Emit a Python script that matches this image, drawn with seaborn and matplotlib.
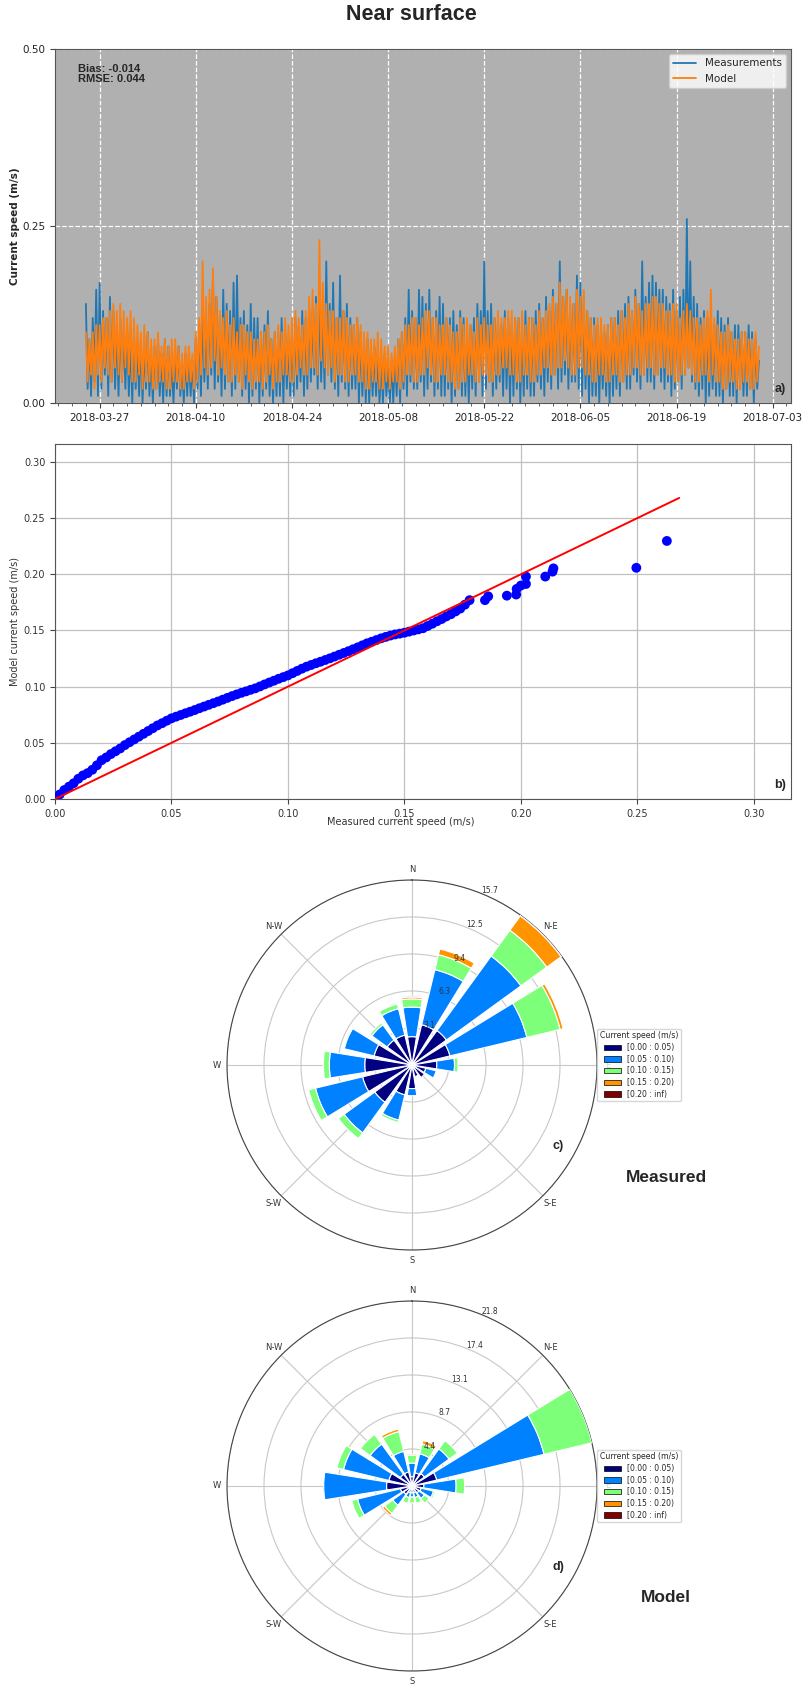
import numpy as np
import pandas as pd
import matplotlib
matplotlib.use("Agg")
import matplotlib.pyplot as plt
import matplotlib.dates as mdates
from matplotlib.patches import Patch
import seaborn as sns

# ---------------- data ----------------
# time series (cm/s), 6-hourly from 2018-03-25 00:00
meas_cms = [
    14, 2, 9, 1, 12, 3, 16, 1, 17, 2, 13, 4, 12, 1, 15, 3, 13, 2, 11, 1, 12, 3, 10, 2, 11, 1, 9, 0,
    10, 2, 8, 1, 9, 0, 8, 2, 10, 1, 7, 0, 8, 2, 9, 1, 7, 0, 9, 1, 8, 1, 6, 0, 7, 2, 8, 1,
    6, 0, 7, 1, 7, 1, 6, 0, 9, 2, 11, 1, 13, 3, 12, 2, 14, 4, 18, 2, 15, 3, 12, 1, 16, 2, 14, 3,
    13, 1, 17, 2, 18, 3, 12, 1, 13, 2, 11, 0, 14, 1, 12, 2, 12, 0, 10, 1, 11, 2, 13, 1, 9, 0, 10, 1,
    10, 1, 12, 0, 11, 2, 9, 1, 10, 1, 12, 2, 11, 3, 13, 1, 12, 2, 14, 3, 13, 4, 15, 2, 16, 3, 12, 2,
    20, 4, 14, 3, 17, 2, 12, 1, 18, 3, 13, 2, 14, 1, 12, 2, 11, 2, 12, 0, 10, 1, 9, 0, 9, 0, 8, 1,
    8, 1, 7, 0, 6, 0, 7, 1, 5, 0, 6, 0, 7, 1, 9, 0, 10, 2, 12, 1, 16, 3, 13, 2, 12, 2, 16, 3,
    15, 1, 14, 2, 16, 3, 12, 1, 13, 2, 15, 1, 14, 1, 12, 2, 12, 0, 13, 1, 11, 2, 13, 1, 12, 1, 10, 0,
    11, 2, 12, 1, 14, 3, 13, 1, 20, 2, 13, 3, 14, 1, 12, 2, 12, 3, 11, 1, 13, 2, 12, 0, 11, 1, 12, 2,
    12, 0, 11, 1, 13, 2, 12, 1, 12, 1, 13, 3, 14, 2, 12, 1, 15, 3, 13, 2, 16, 4, 14, 2, 20, 3, 15, 4,
    16, 2, 14, 3, 14, 3, 18, 2, 17, 1, 15, 2, 13, 0, 12, 1, 12, 1, 11, 0, 11, 2, 10, 1, 11, 0, 12, 1,
    12, 2, 13, 1, 13, 3, 14, 2, 15, 2, 13, 4, 16, 3, 14, 2, 20, 4, 15, 3, 17, 3, 18, 2, 17, 4, 16, 3,
    16, 2, 15, 3, 14, 1, 16, 2, 13, 3, 15, 2, 16, 4, 26, 5, 20, 3, 15, 2, 14, 1, 12, 2, 13, 0, 12, 1,
    12, 2, 11, 1, 13, 1, 12, 0, 11, 2, 12, 1, 10, 1, 11, 0, 11, 2, 10, 1, 10, 1, 11, 2, 10, 0, 9, 2,
    6]
model_cms = [
    10, 3, 9, 4, 10, 2, 11, 4, 11, 3, 12, 5, 12, 4, 13, 3, 14, 5, 13, 4, 14, 3, 13, 5, 12, 4, 13, 3,
    12, 3, 11, 4, 10, 2, 11, 3, 10, 3, 9, 2, 9, 2, 10, 3, 8, 3, 9, 2, 8, 2, 9, 3, 9, 3, 8, 2,
    7, 2, 8, 3, 8, 3, 7, 2, 10, 3, 12, 4, 20, 5, 15, 4, 16, 5, 19, 6, 15, 4, 13, 5, 12, 4, 13, 3,
    11, 3, 12, 4, 10, 3, 11, 2, 11, 4, 10, 3, 10, 2, 9, 3, 9, 3, 10, 2, 10, 3, 11, 4, 9, 2, 10, 3,
    11, 3, 10, 4, 12, 4, 11, 3, 12, 3, 13, 4, 12, 5, 11, 4, 13, 4, 15, 5, 16, 5, 14, 4, 23, 6, 17, 5,
    14, 4, 13, 5, 13, 3, 12, 4, 12, 4, 13, 3, 12, 3, 11, 4, 11, 4, 12, 3, 11, 3, 10, 2, 10, 2, 9, 3,
    9, 3, 10, 2, 9, 2, 8, 3, 8, 2, 7, 3, 8, 3, 9, 2, 10, 3, 11, 4, 11, 4, 12, 3, 12, 3, 11, 4,
    12, 4, 13, 5, 13, 4, 12, 3, 12, 3, 11, 4, 11, 4, 12, 3, 11, 3, 10, 2, 10, 2, 12, 3, 11, 3, 12, 4,
    11, 4, 10, 3, 12, 3, 11, 4, 12, 4, 11, 3, 11, 3, 12, 4, 13, 4, 12, 5, 12, 5, 13, 4, 13, 4, 12, 3,
    12, 3, 13, 4, 11, 4, 12, 3, 12, 3, 11, 4, 13, 4, 12, 5, 13, 5, 14, 4, 15, 4, 14, 5, 17, 5, 15, 6,
    16, 5, 15, 4, 14, 4, 16, 5, 15, 5, 16, 4, 13, 4, 12, 3, 11, 3, 12, 4, 12, 4, 11, 3, 11, 3, 12, 4,
    12, 4, 11, 3, 13, 3, 12, 4, 14, 4, 13, 5, 15, 5, 14, 4, 13, 4, 14, 5, 14, 5, 15, 4, 15, 4, 14, 5,
    14, 5, 13, 4, 13, 4, 14, 3, 14, 3, 12, 4, 13, 4, 14, 5, 13, 4, 12, 3, 12, 3, 11, 4, 12, 4, 13, 3,
    16, 4, 12, 3, 11, 3, 10, 2, 10, 2, 11, 3, 10, 3, 9, 2, 9, 2, 10, 3, 10, 3, 9, 2, 9, 2, 10, 3,
    8]
series_start = "2018-03-25 00:00"
series_step = "6h"
bias_text = "Bias: -0.014\nRMSE: 0.044"

# Q-Q plot (m/s)
qq_meas = [
    0.000, 0.002, 0.004, 0.006, 0.008, 0.010, 0.012, 0.014, 0.016, 0.018, 0.020, 0.022, 0.024, 0.026,
    0.028, 0.030, 0.032, 0.034, 0.036, 0.038, 0.040, 0.042, 0.044, 0.046, 0.048, 0.050, 0.052, 0.054,
    0.056, 0.058, 0.060, 0.062, 0.064, 0.066, 0.068, 0.070, 0.072, 0.074, 0.076, 0.078, 0.080, 0.082,
    0.084, 0.086, 0.088, 0.090, 0.092, 0.094, 0.096, 0.098, 0.100, 0.102, 0.104, 0.106, 0.108, 0.110,
    0.112, 0.114, 0.116, 0.118, 0.120, 0.122, 0.124, 0.126, 0.128, 0.130, 0.132, 0.134, 0.136, 0.138,
    0.140, 0.142, 0.144, 0.146, 0.148, 0.150, 0.152, 0.154, 0.156, 0.158, 0.160, 0.162, 0.164, 0.166,
    0.168, 0.170, 0.172, 0.174, 0.176, 0.178,
    0.1846, 0.186, 0.194, 0.198, 0.1982, 0.200, 0.2022, 0.2022, 0.2105, 0.2136, 0.214, 0.2496, 0.2627]
qq_model = [
    0.000, 0.004, 0.008, 0.011, 0.014, 0.018, 0.021, 0.023, 0.026, 0.030, 0.0345, 0.037, 0.040, 0.0425,
    0.045, 0.048, 0.0505, 0.053, 0.0555, 0.058, 0.0605, 0.063, 0.0655, 0.0675, 0.0697, 0.0718, 0.0733, 0.0748,
    0.0763, 0.0777, 0.0792, 0.0808, 0.0823, 0.0838, 0.0853, 0.0868, 0.0884, 0.0900, 0.0916, 0.0931, 0.0945, 0.0958,
    0.0972, 0.0985, 0.1002, 0.1020, 0.1037, 0.1053, 0.1070, 0.1085, 0.1100, 0.1120, 0.1140, 0.1160, 0.1178, 0.1193,
    0.1208, 0.1222, 0.1237, 0.1252, 0.1268, 0.1284, 0.1300, 0.1316, 0.1333, 0.1350, 0.1368, 0.1386, 0.1400, 0.1415,
    0.1430, 0.1443, 0.1455, 0.1465, 0.1472, 0.1480, 0.1490, 0.1500, 0.1510, 0.1520, 0.1540, 0.1560, 0.1582, 0.1602,
    0.1625, 0.1645, 0.1670, 0.1695, 0.1730, 0.1770,
    0.177, 0.1804, 0.181, 0.182, 0.187, 0.190, 0.1914, 0.198, 0.198, 0.2024, 0.2053, 0.2058, 0.2297]
one_to_one = [0.0, 0.268]

# wind roses: frequency (%) per direction (N, NNE, ... NNW) and speed bin
rose_dirs = [0, 22.5, 45, 67.5, 90, 112.5, 135, 157.5, 180, 202.5, 225, 247.5, 270, 292.5, 315, 337.5]
speed_bins = ["[0.00 : 0.05)", "[0.05 : 0.10)", "[0.10 : 0.15)", "[0.15 : 0.20)", "[0.20 : inf)"]
meas_b1 = [2.4, 3.5, 3.6, 3.3, 2.1, 1.2, 1.3, 1.0, 2.0, 2.6, 3.9, 4.3, 4.0, 3.3, 2.6, 2.6]
meas_b2 = [2.5, 4.8, 7.8, 6.7, 1.5, 0.9, 0.0, 0.0, 0.6, 2.2, 3.2, 4.1, 3.0, 2.6, 1.6, 2.3]
meas_b3 = [0.7, 1.3, 2.7, 2.9, 0.3, 0.0, 0.0, 0.0, 0.0, 0.2, 0.6, 0.6, 0.5, 0.1, 0.2, 0.4]
meas_b4 = [0.15, 0.5, 1.5, 0.25, 0, 0, 0, 0, 0, 0, 0, 0, 0, 0, 0, 0]
meas_b5 = [0.1, 0, 0.06, 0, 0, 0, 0, 0, 0, 0, 0, 0, 0, 0, 0, 0]
model_b1 = [1.1, 1.6, 1.8, 3.0, 1.4, 1.1, 1.0, 0.8, 0.8, 0.8, 1.2, 1.4, 3.0, 2.8, 1.7, 1.7]
model_b2 = [1.6, 2.3, 3.6, 13.0, 3.8, 1.5, 0.8, 0.6, 0.5, 0.6, 1.6, 5.2, 7.4, 5.5, 4.4, 2.5]
model_b3 = [0.95, 1.2, 1.2, 5.8, 1.0, 0.2, 0.7, 0.7, 0.7, 0.7, 1.2, 0.7, 0.0, 0.8, 1.4, 2.4]
model_b4 = [0.15, 0.4, 0, 0, 0, 0, 0, 0, 0, 0, 0.3, 0, 0, 0, 0, 0.3]
model_b5 = [0, 0, 0, 0, 0, 0, 0, 0, 0, 0, 0, 0, 0, 0, 0, 0]
meas_rmax = 15.66
model_rmax = 21.8

# ---------------- style ----------------
sns.set_style("ticks")
plt.rcParams["font.family"] = ["DejaVu Sans"]
ARIAL = ["Liberation Sans", "DejaVu Sans"]
W, H = 802, 1688
fig = plt.figure(figsize=(W / 100, H / 100), dpi=100)


def rect(l, t, r, b):
    return [l / W, 1 - b / H, (r - l) / W, (b - t) / H]


fig.text(411 / W, 1 - 15 / H, "Near surface", ha="center", va="center",
         fontsize=15.5, fontweight="bold", family=ARIAL)

# ---------------- a) time series ----------------
axa = fig.add_axes(rect(55, 49, 791, 403))
times = pd.date_range(series_start, periods=len(meas_cms), freq=series_step)
df = pd.DataFrame({"time": times,
                   "meas": np.array(meas_cms) / 100.0,
                   "model": np.array(model_cms) / 100.0})
sns.lineplot(data=df, x="time", y="meas", ax=axa, color="#1f77b4", lw=1.3,
             label="Measurements", estimator=None)
sns.lineplot(data=df, x="time", y="model", ax=axa, color="#ff7f0e", lw=1.3,
             label="Model", estimator=None)
axa.set_facecolor("#b0b0b0")
axa.set_ylim(0, 0.5)
axa.set_yticks([0, 0.25, 0.5])
axa.set_yticklabels(["0.00", "0.25", "0.50"])
axa.set_xlim(mdates.date2num(pd.Timestamp("2018-03-20 12:00")),
             mdates.date2num(pd.Timestamp("2018-07-05 16:00")))
major = pd.date_range("2018-03-27", "2018-07-03", freq="14D")
minor = pd.date_range("2018-03-21", "2018-07-05", freq="2D")
axa.set_xticks(mdates.date2num(major))
axa.set_xticks(mdates.date2num(minor), minor=True)
axa.xaxis.set_major_formatter(mdates.DateFormatter("%Y-%m-%d"))
axa.grid(True, which="major", color="white", ls="--", lw=0.9)
axa.tick_params(axis="both", which="major", labelsize=7.5, length=3.5, color="#444", labelcolor="#222")
axa.tick_params(axis="x", which="minor", length=2, color="#444")
for s in axa.spines.values():
    s.set_color("#555")
    s.set_linewidth(0.8)
axa.set_xlabel("")
axa.set_ylabel("Current speed (m/s)", fontsize=7.5, fontweight="bold")
axa.yaxis.set_label_coords(-0.047, 0.5)
leg = axa.legend(loc="upper right", fontsize=7.5, frameon=True, framealpha=0.8,
                 facecolor="white", edgecolor="#cccccc", handlelength=2.2)
fig.text(78 / W, 1 - 64 / H, bias_text, ha="left", va="top", fontsize=8,
         fontweight="bold", family=ARIAL, linespacing=1.05)
fig.text(780 / W, 1 - 389 / H, "a)", ha="center", va="center", fontsize=9,
         fontweight="bold", family=ARIAL)

# ---------------- b) Q-Q ----------------
axb = fig.add_axes(rect(55, 444, 791, 799))
sns.scatterplot(x=qq_meas, y=qq_model, ax=axb, color="blue", s=50, edgecolor="none", zorder=3)
sns.lineplot(x=one_to_one, y=one_to_one, ax=axb, color="red", lw=1.4, zorder=4)
axb.set_xlim(0, 0.316)
axb.set_ylim(0, 0.316)
ticks = [0, 0.05, 0.10, 0.15, 0.20, 0.25, 0.30]
axb.set_xticks(ticks)
axb.set_yticks(ticks)
axb.set_xticklabels([f"{t:.2f}" for t in ticks])
axb.set_yticklabels([f"{t:.2f}" for t in ticks])
axb.grid(True, color="#c0c0c0", lw=0.9)
axb.set_axisbelow(True)
axb.tick_params(labelsize=7, length=3.5, color="#444", labelcolor="#333")
for s in axb.spines.values():
    s.set_color("#555")
    s.set_linewidth(0.8)
axb.set_xlabel("Measured current speed (m/s)", fontsize=7, color="#333")
axb.set_ylabel("Model current speed (m/s)", fontsize=7, color="#333")
axb.yaxis.set_label_coords(-0.047, 0.5)
axb.xaxis.set_label_coords(0.47, -0.05)
fig.text(780 / W, 1 - 785 / H, "b)", ha="center", va="center", fontsize=9,
         fontweight="bold", family=ARIAL)

# ---------------- c), d) wind roses ----------------
jet = plt.get_cmap("jet")
bin_colors = [jet(v) for v in np.linspace(0, 1, 5)]


def rose(center_y, bins, rmax, letter, title):
    cx, r = 412, 185
    ax = fig.add_axes(rect(cx - r, center_y - r, cx + r, center_y + r), projection="polar")
    ax.set_theta_zero_location("N")
    ax.set_theta_direction(-1)
    theta = np.deg2rad(rose_dirs)
    bottom = np.zeros(len(rose_dirs))
    for vals, col in zip(bins, bin_colors):
        vals = np.asarray(vals, dtype=float)
        m = vals > 0
        ax.bar(theta[m], vals[m], width=np.deg2rad(18), bottom=bottom[m], color=col,
               edgecolor="white", linewidth=0.8, zorder=3)
        bottom += vals
    ax.set_ylim(0, rmax)
    rt = [rmax * k / 5 for k in range(1, 6)]
    ax.set_rgrids(rt, labels=[""] * len(rt))
    for v in rt:
        ax.text(np.deg2rad(24), v + rmax * 6 / 185, f"{v:.1f}", ha="center", va="center",
                fontsize=5.5, color="#333", zorder=10)
    ax.set_xticks(np.deg2rad([0, 45, 90, 135, 180, 225, 270, 315]))
    ax.set_xticklabels(["N", "N-E", "E", "S-E", "S", "S-W", "W", "N-W"], fontsize=6, color="#333")
    ax.tick_params(axis="x", pad=-3)
    ax.grid(True, color="#c8c8c8", lw=0.8)
    ax.spines["polar"].set_color("#444")
    ax.spines["polar"].set_linewidth(0.8)
    handles = [Patch(facecolor=c, edgecolor="black", lw=0.5) for c in bin_colors]
    ax.legend(handles, speed_bins, title="Current speed (m/s)", loc="center left",
              bbox_to_anchor=(1.0, 0.5), borderaxespad=0, fontsize=5.5, title_fontsize=5.6,
              frameon=True, edgecolor="#cccccc", handlelength=2.2, labelspacing=0.35,
              borderpad=0.35)
    fig.text(558 / W, 1 - (center_y + 81) / H, letter, ha="center", va="center",
             fontsize=9, fontweight="bold", family=ARIAL)
    fig.text(666 / W, 1 - (center_y + 112) / H, title, ha="center", va="center",
             fontsize=12.5, fontweight="bold", family=ARIAL)
    return ax


rose(1065, [meas_b1, meas_b2, meas_b3, meas_b4, meas_b5], meas_rmax, "c)", "Measured")
rose(1486, [model_b1, model_b2, model_b3, model_b4, model_b5], model_rmax, "d)", "Model")

fig.savefig("out.png", dpi=100)
